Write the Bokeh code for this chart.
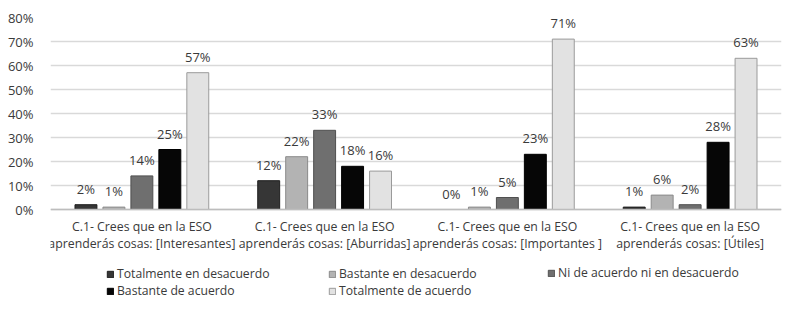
from bokeh.plotting import figure
from bokeh.models import (FactorRange, Range1d, ColumnDataSource, Legend, LegendItem,
                          NumeralTickFormatter, FixedTicker, Span)
from bokeh.transform import dodge
from bokeh.core.properties import value
from bokeh.embed import file_html
from bokeh.resources import INLINE

categories = ["Interesantes", "Aburridas", "Importantes", "Útiles"]
category_line1 = ["C.1- Crees que en la ESO"] * 4
category_line2 = ["aprenderás cosas: [Interesantes]", "aprenderás cosas: [Aburridas]",
                  "aprenderás cosas: [Importantes ]", "aprenderás cosas: [Útiles]"]
series_names = ["Totalmente en desacuerdo", "Bastante en desacuerdo",
                "Ni de acuerdo ni en desacuerdo", "Bastante de acuerdo",
                "Totalmente de acuerdo"]
totalmente_desacuerdo = [2, 12, 0, 1]
bastante_desacuerdo = [1, 22, 1, 6]
ni_acuerdo = [14, 33, 5, 2]
bastante_acuerdo = [25, 18, 23, 28]
totalmente_acuerdo = [57, 16, 71, 63]
y_ticks = [0, 10, 20, 30, 40, 50, 60, 70, 80]

series_values = [totalmente_desacuerdo, bastante_desacuerdo, ni_acuerdo,
                 bastante_acuerdo, totalmente_acuerdo]
fills = ["#363636", "#b3b3b3", "#6f6f6f", "#060606", "#e2e2e2"]
lines = ["#1e1e1e", "#8a8a8a", "#505050", "#000000", "#9a9a9a"]
offsets = [-0.306, -0.153, 0.0, 0.153, 0.306]

FONT = "Open Sans"
TXT = "#3a3a3a"

# frame spans from the 80% line (y=17) down to the page bottom; 0% lies at y=209
y_min = -0.8 * 102 / 192
p = figure(width=800, height=311, x_range=FactorRange(*categories, range_padding=0),
           y_range=Range1d(y_min, 0.8), output_backend="svg", toolbar_location=None,
           min_border_left=50, min_border_right=19, min_border_top=17, min_border_bottom=0)
p.outline_line_color = None
p.xaxis.visible = False

renderers = []
for name, vals, fc, lc, off in zip(series_names, series_values, fills, lines, offsets):
    src = ColumnDataSource(dict(cat=categories, v=[x / 100 for x in vals],
                                lab=[f"{x}%" for x in vals]))
    r = p.vbar(x=dodge("cat", off, range=p.x_range), top="v", width=0.12, source=src,
               fill_color=fc, line_color=lc, line_width=1)
    renderers.append(r)
    p.text(x=dodge("cat", off, range=p.x_range), y="v", text="lab", source=src,
           text_align="center", text_baseline="bottom", y_offset=-7,
           text_font=value(FONT), text_font_size="13px", text_color=TXT)

cat_src = ColumnDataSource(dict(cat=categories, l1=category_line1, l2=category_line2,
                                y0=[0] * len(categories)))
for col, off in (("l1", 8), ("l2", 25)):
    p.text(x="cat", y="y0", text=col, source=cat_src, text_align="center",
           text_baseline="top", y_offset=off,
           text_font=value(FONT), text_font_size="12.3px", text_color=TXT)

p.add_layout(Span(location=0, dimension="width", line_color="#bdbdbd", line_width=1.5))

p.yaxis.ticker = FixedTicker(ticks=[t / 100 for t in y_ticks])
p.yaxis.formatter = NumeralTickFormatter(format="0%")
p.yaxis.axis_line_color = None
p.yaxis.major_tick_line_color = None
p.yaxis.minor_tick_line_color = None
p.yaxis.major_label_text_font = FONT
p.yaxis.major_label_text_font_size = "13px"
p.yaxis.major_label_text_color = TXT
p.yaxis.major_label_standoff = 11

p.xgrid.grid_line_color = None
p.ygrid.ticker = FixedTicker(ticks=[t / 100 for t in y_ticks])
p.ygrid.grid_line_color = "#d9d9d9"
p.ygrid.grid_line_width = 1.5

columns = [[0, 3], [1, 4], [2]]
col_x = [56, 278, 497]
for col, cx in zip(columns, col_x):
    items = [LegendItem(label=series_names[i], renderers=[renderers[i]]) for i in col]
    lg = Legend(items=items, location=(cx, 12 if len(col) == 2 else 30),
                orientation="vertical",
                background_fill_alpha=0, border_line_color=None,
                glyph_width=8, glyph_height=8, label_text_font=FONT,
                label_text_font_size="12.2px", label_text_color=TXT,
                label_standoff=3, label_height=14, spacing=0, padding=0, margin=0)
    p.add_layout(lg, "center")

open("out.html", "w").write(file_html(p, INLINE))
